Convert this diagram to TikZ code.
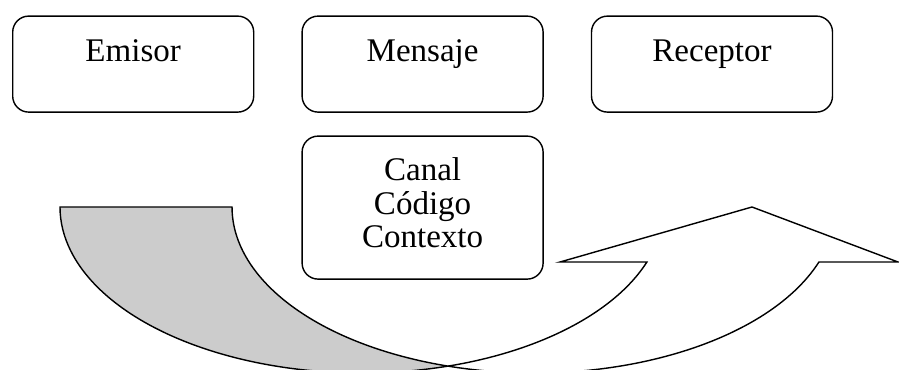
\documentclass[tikz,border=0pt]{standalone}
\usepackage{fontspec}
\setmainfont{Liberation Serif}
\usepackage{xcolor}
\usepackage{tikz}
\usetikzlibrary{positioning}

\definecolor{tailgray}{HTML}{CCCCCC}

\begin{document}
\begin{tikzpicture}[
    box/.style={draw, line width=1pt, rounded corners=0.4cm, inner sep=0pt,
        minimum width=6.025cm, font=\fontsize{23.5}{23.8}\selectfont},
    toprow/.style={box, text height=1.13cm, text depth=1.27cm},
    arrowline/.style={draw, line width=1pt, line join=miter}
]
    \clip (0,0) rectangle (22.475,9.225);

    % Top row
    \node[toprow, anchor=north west] (emisor) at (0.3,8.84) {Emisor};
    \node[toprow, right=1.175cm of emisor] (mensaje) {Mensaje};
    \node[toprow, right=1.175cm of mensaje] (receptor) {Receptor};

    % Canal / Codigo / Contexto
    \node[box, align=center, minimum height=3.575cm, below=0.565cm of mensaje] (canal)
        {Canal\\Código\\Contexto\rule[-0.25cm]{0pt}{0.25cm}};

    % Curved arrow: back (tail)
    \filldraw[arrowline, fill=tailgray] (1.5,4.05)
        arc[start angle=180, end angle=286.55, x radius=7.55, y radius=4.15]
        arc[start angle=253.45, end angle=180, x radius=7.55, y radius=4.15] -- cycle;

    % Curved arrow: front (head)
    \filldraw[arrowline, fill=white] (11.2,0.072)
        arc[start angle=286.55, end angle=340.65, x radius=7.55, y radius=4.15]
        -- (14.0,2.675) -- (18.8,4.05) -- (22.45,2.675) -- (20.473,2.675)
        arc[start angle=340.65, end angle=253.45, x radius=7.55, y radius=4.15] -- cycle;
\end{tikzpicture}
\end{document}
